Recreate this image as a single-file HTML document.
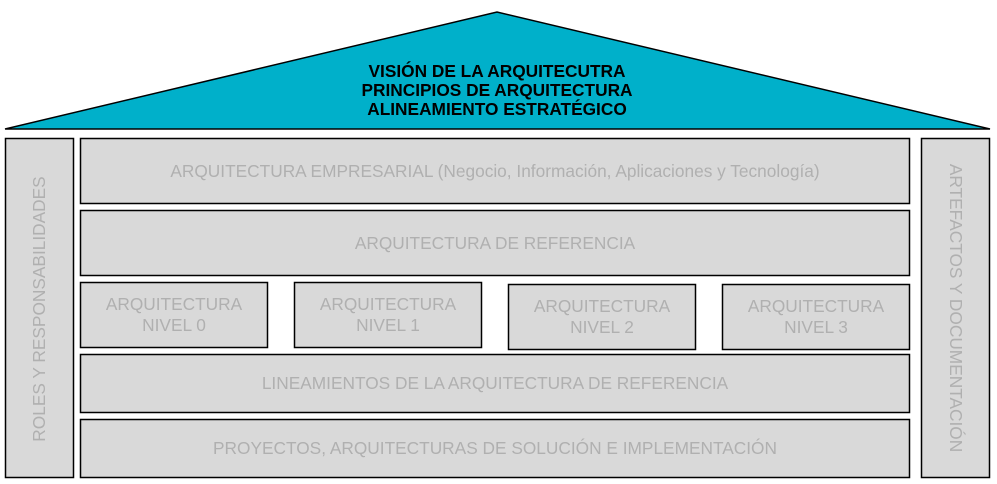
<!DOCTYPE html>
<html><head><meta charset="utf-8"><style>
html,body{margin:0;padding:0;background:#fff;width:997px;height:484px;overflow:hidden}
svg{display:block}
text{font-family:"Liberation Sans",Arial,sans-serif}
.b{fill:#d9d9d9;stroke:#000;stroke-width:1.5}
.t{fill:#b0b0b0;font-size:17.3px;text-anchor:middle}
</style></head><body>
<svg width="997" height="484" viewBox="0 0 997 484">
<polygon points="5,129 497,12 990,129" fill="#00b0ca" stroke="#000" stroke-width="1.5"/>
<g font-weight="bold" font-size="17.3" text-anchor="middle" fill="#000">
<text x="497" y="77">VISIÓN DE LA ARQUITECUTRA</text>
<text x="497" y="96">PRINCIPIOS DE ARQUITECTURA</text>
<text x="497" y="115">ALINEAMIENTO ESTRATÉGICO</text>
</g>
<rect class="b" x="5.5" y="138.5" width="68" height="339"/>
<rect class="b" x="921.5" y="138.5" width="68" height="339"/>
<rect class="b" x="80.5" y="138.5" width="829" height="65"/>
<rect class="b" x="80.5" y="210.5" width="829" height="65"/>
<rect class="b" x="80.5" y="282.5" width="187" height="65"/>
<rect class="b" x="294.5" y="282.5" width="187" height="65"/>
<rect class="b" x="508.5" y="284.5" width="187" height="65"/>
<rect class="b" x="722.5" y="284.5" width="187" height="65"/>
<rect class="b" x="80.5" y="354.5" width="829" height="58"/>
<rect class="b" x="80.5" y="419.5" width="829" height="58"/>
<text class="t" x="495" y="177">ARQUITECTURA EMPRESARIAL (Negocio, Información, Aplicaciones y Tecnología)</text>
<text class="t" x="495" y="249">ARQUITECTURA DE REFERENCIA</text>
<text class="t" x="174" y="310">ARQUITECTURA</text><text class="t" x="174" y="331">NIVEL 0</text>
<text class="t" x="388" y="310">ARQUITECTURA</text><text class="t" x="388" y="331">NIVEL 1</text>
<text class="t" x="602" y="312">ARQUITECTURA</text><text class="t" x="602" y="333">NIVEL 2</text>
<text class="t" x="816" y="312">ARQUITECTURA</text><text class="t" x="816" y="333">NIVEL 3</text>
<text class="t" x="495" y="389">LINEAMIENTOS DE LA ARQUITECTURA DE REFERENCIA</text>
<text class="t" x="495" y="454">PROYECTOS, ARQUITECTURAS DE SOLUCIÓN E IMPLEMENTACIÓN</text>
<text class="t" transform="translate(45,309) rotate(-90)">ROLES Y RESPONSABILIDADES</text>
<text class="t" transform="translate(950,308) rotate(90)">ARTEFACTOS Y DOCUMENTACIÓN</text>
</svg>
</body></html>
